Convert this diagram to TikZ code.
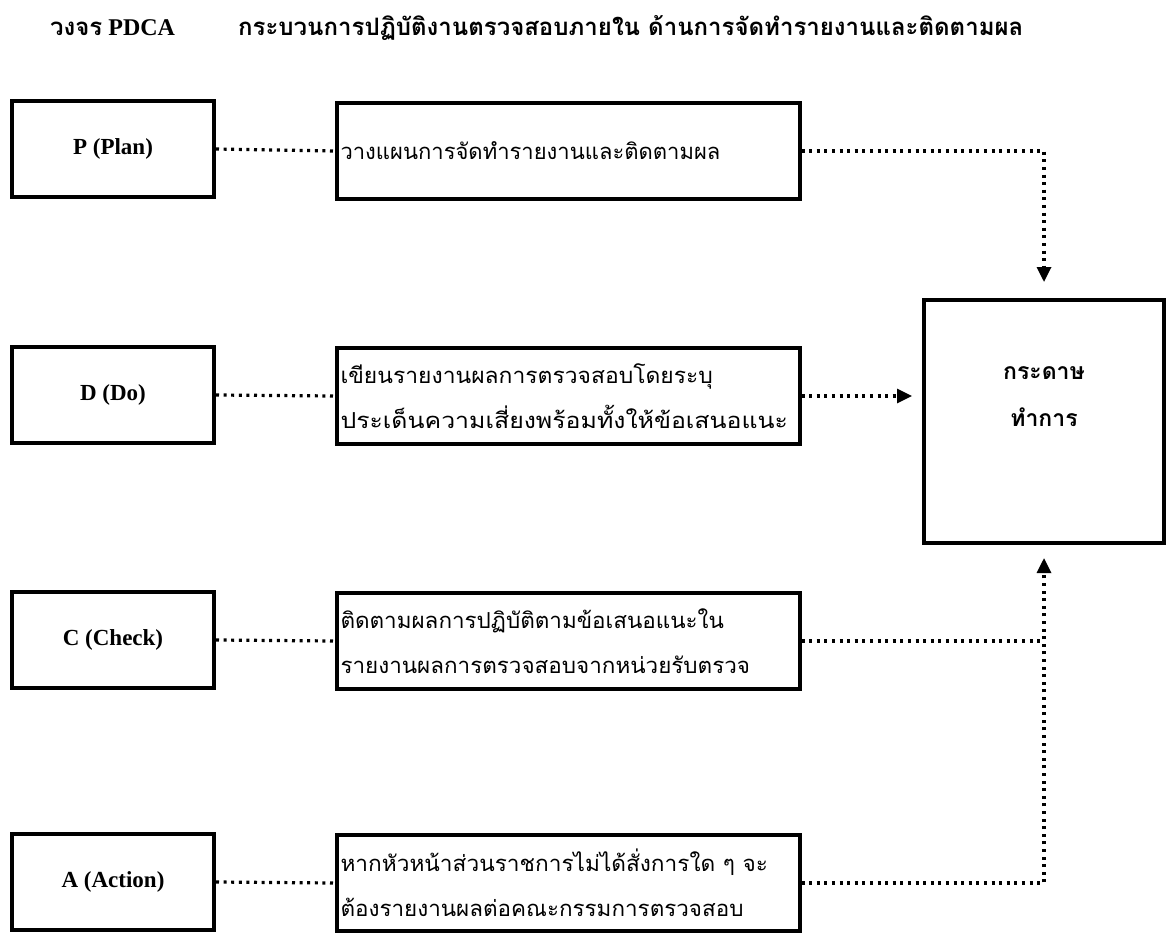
\documentclass[tikz,border=0pt]{standalone}
\usepackage{fontspec}
\usepackage{graphicx}
\setmainfont{Liberation Serif}
\newfontfamily\thai[Script=Thai]{Loma}
\usetikzlibrary{arrows.meta}
\newcommand\hsc[2]{\scalebox{#1}[1]{#2}}
\tikzset{
  lbox/.style={draw, line width=4pt, minimum width=202pt, minimum height=96pt, inner sep=0pt,
    font=\fontsize{23}{27}\selectfont\bfseries},
  mbox/.style={draw, line width=4pt, minimum width=463pt, minimum height=96pt, text width=455pt,
    inner xsep=4pt, inner ysep=0pt, align=left, font=\thai\fontsize{22}{45}\selectfont},
  bigbox/.style={draw, line width=4pt, minimum width=240pt, minimum height=243pt},
  bigtext/.style={align=center, font=\thai\bfseries\fontsize{23}{47}\selectfont},
  titletext/.style={anchor=base west, inner sep=0pt, font=\fontsize{24}{28}\selectfont\bfseries},
  dotline/.style={line width=3.2pt, dash pattern=on 3pt off 4.6pt},
  arr/.style={dotline, -{Triangle[length=15pt,width=14pt]}}
}
\begin{document}
\begin{tikzpicture}[x=1pt,y=-1pt]
\useasboundingbox (0,0) rectangle (1169,934);
% title
\node[titletext] (t1) at (50,36) {{\thai วงจร} PDCA};
\node[titletext] (t2) at (238,36) {\thai กระบวนการปฏิบัติงานตรวจสอบภายใน ด้านการจัดทำรายงานและติดตามผล};
% left boxes
\node[lbox] (P) at (113,149) {P (Plan)};
\node[lbox] (D) at (113,395) {D (Do)};
\node[lbox] (C) at (113,640) {C (Check)};
\node[lbox] (A) at (113,882) {A (Action)};
% middle boxes
\node[mbox] (Pm) at (568,151) {\hsc{1.0}{วางแผนการจัดทำรายงานและติดตามผล}};
\node[mbox] (Dm) at (568,396) {\hsc{1.04}{เขียนรายงานผลการตรวจสอบโดยระบุ}\\\hsc{1.13}{ประเด็นความเสี่ยงพร้อมทั้งให้ข้อเสนอแนะ}};
\node[mbox] (Cm) at (568,641) {\hsc{1.02}{ติดตามผลการปฏิบัติตามข้อเสนอแนะใน}\\\hsc{1.02}{รายงานผลการตรวจสอบจากหน่วยรับตรวจ}};
\node[mbox] (Am) at (568,883) {\hsc{1.03}{หากหัวหน้าส่วนราชการไม่ได้สั่งการใด ๆ จะ}\\\hsc{1.02}{ต้องรายงานผลต่อคณะกรรมการตรวจสอบ}};
% big box
\node[bigbox] (W) at (1044,421.5) {};
\node[bigtext] (Wt) at (1044,397) {กระดาษ\\ทำการ};
% connectors
\draw[dotline] (P.east) -- (Pm.west);
\draw[dotline] (D.east) -- (Dm.west);
\draw[dotline] (C.east) -- (Cm.west);
\draw[dotline] (A.east) -- (Am.west);
\draw[arr, shorten >=16pt] (Pm.east) -| (W.north);
\draw[arr, shorten >=10pt] (Dm.east) -- (Dm.east -| W.west);
\draw[dotline] (Cm.east) -- (Cm.east -| W.south);
\draw[arr, shorten >=13pt] (Am.east) -| (W.south);
\end{tikzpicture}
\end{document}
